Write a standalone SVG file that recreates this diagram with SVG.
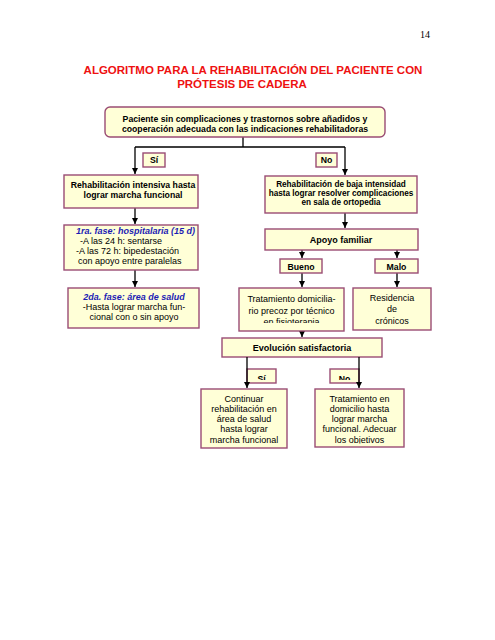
<svg xmlns="http://www.w3.org/2000/svg" width="495" height="640" viewBox="0 0 495 640">
<defs>
<style>
.box{fill:#FFFFD7;stroke:#9A4C74;stroke-width:1.4}
.c{stroke:#000;stroke-width:1.3;fill:none}
.a{marker-end:url(#ah)}
text{font-family:"Liberation Sans",Arial,Helvetica,sans-serif;fill:#000}
.t{font-size:11.5px;font-weight:bold;fill:#EE1111;text-anchor:middle}
.b{font-size:8.7px;font-weight:bold;text-anchor:middle}
.r{font-size:9px;text-anchor:middle}
.rl{font-size:9px}
.bi{font-size:9px;font-weight:bold;font-style:italic;fill:#1C1CB4}
.pg{font-family:"Liberation Serif","Times New Roman",serif;font-size:10px}
</style>
<marker id="ah" markerWidth="6" markerHeight="6" refX="6" refY="3" orient="auto" markerUnits="userSpaceOnUse"><path d="M0,0 L6,3 L0,6 z" fill="#000"/></marker>
<clipPath id="clipF"><rect x="239" y="288" width="105" height="35"/></clipPath>
<clipPath id="clipSi"><rect x="247" y="369" width="29" height="11"/></clipPath>
<clipPath id="clipNo"><rect x="330" y="369" width="29" height="11"/></clipPath>
<clipPath id="clipJ"><rect x="315" y="389" width="89" height="54.5"/></clipPath>
</defs>
<rect width="495" height="640" fill="#fff"/>
<text class="pg" x="420" y="38">14</text>
<text class="t" x="253" y="74">ALGORITMO PARA LA REHABILITACIÓN DEL PACIENTE CON</text>
<text class="t" x="242" y="88">PRÓTESIS DE CADERA</text>

<g id="connectors">
<path class="c" d="M243,137 V147 M135,147 H345"/>
<path class="c a" d="M135,147 V174"/>
<path class="c a" d="M345,147 V175"/>
<path class="c a" d="M135,208 V224"/>
<path class="c a" d="M135,270 V287"/>
<path class="c a" d="M345,213 V228"/>
<path class="c a" d="M302,250 V258"/>
<path class="c a" d="M397,250 V258"/>
<path class="c a" d="M302,273 V287"/>
<path class="c a" d="M397,273 V287"/>
<path class="c a" d="M302,331 V337"/>
</g>

<g id="n_top"><rect class="box" x="105" y="107" width="280" height="30" rx="5"/>
<text class="b" x="245" y="122">Paciente sin complicaciones y trastornos sobre añadidos y</text>
<text class="b" x="245" y="132">cooperación adecuada con las indicaciones rehabilitadoras</text></g>

<g id="l_si"><rect class="box" x="143" y="153" width="22" height="14"/><text class="b" x="154" y="163">Sí</text></g>
<g id="l_no"><rect class="box" x="316" y="153" width="21" height="14"/><text class="b" x="326.5" y="163">No</text></g>

<g id="n_intensiva"><rect class="box" x="64" y="175" width="134" height="33"/>
<text class="b" x="133" y="188">Rehabilitación intensiva hasta</text>
<text class="b" x="133" y="198">lograr marcha funcional</text></g>

<g id="n_fase1"><rect class="box" x="64" y="225" width="134" height="45"/>
<text class="bi" x="76" y="234">1ra. fase: hospitalaria (15 d)</text>
<text class="rl" x="80" y="244">-A las 24 h: sentarse</text>
<text class="rl" x="76" y="254">-A las 72 h: bipedestación</text>
<text class="rl" x="78" y="264">con apoyo entre paralelas</text></g>

<g id="n_fase2"><rect class="box" x="68" y="288" width="131" height="40"/>
<text class="bi" x="134" y="299.5" text-anchor="middle">2da. fase: área de salud</text>
<text class="r" x="134" y="309.5">-Hasta lograr marcha fun-</text>
<text class="r" x="134" y="319.5">cional con o sin apoyo</text></g>

<g id="n_baja"><rect class="box" x="265" y="176" width="152" height="37"/>
<text class="b" x="341" y="187" style="font-size:8.2px">Rehabilitación de baja intensidad</text>
<text class="b" x="341" y="196" style="font-size:8.2px">hasta lograr resolver complicaciones</text>
<text class="b" x="341" y="205" style="font-size:8.2px">en sala de ortopedia</text></g>

<g id="n_apoyo"><rect class="box" x="265" y="229" width="153" height="21"/>
<text class="b" x="341" y="242.5" style="font-size:9px">Apoyo familiar</text></g>

<g id="l_bueno"><rect class="box" x="280" y="259" width="42" height="14"/><text class="b" x="301" y="269.5">Bueno</text></g>
<g id="l_malo"><rect class="box" x="375" y="259" width="43" height="14"/><text class="b" x="396.5" y="269.5">Malo</text></g>

<g id="n_domic"><rect class="box" x="239" y="288" width="105" height="43"/>
<g clip-path="url(#clipF)">
<text class="r" x="291.5" y="302">Tratamiento domicilia-</text>
<text class="r" x="291.5" y="313.5">rio precoz por técnico</text>
<text class="r" x="291.5" y="325">en fisioterapia</text></g></g>

<g id="n_resid"><rect class="box" x="353" y="288" width="78" height="42"/>
<text class="r" x="392" y="300.5">Residencia</text>
<text class="r" x="392" y="312">de</text>
<text class="r" x="392" y="323.5">crónicos</text></g>

<g id="n_evol"><rect class="box" x="222" y="338" width="160" height="19"/>
<text class="b" x="302" y="351" style="font-size:9px">Evolución satisfactoria</text></g>

<g id="l_si2"><rect class="box" x="247" y="369" width="29" height="14"/><text class="b" x="261.5" y="382" clip-path="url(#clipSi)">Sí</text></g>
<g id="l_no2"><rect class="box" x="330" y="369" width="29" height="14"/><text class="b" x="344.5" y="382" clip-path="url(#clipNo)">No</text></g>

<g id="connectors2">
<path class="c a" d="M247,357 V388"/>
<path class="c a" d="M359,357 V388"/>
</g>

<g id="n_continuar"><rect class="box" x="201" y="389" width="86" height="59"/>
<text class="r" x="244" y="401.5">Continuar</text>
<text class="r" x="244" y="411.8">rehabilitación en</text>
<text class="r" x="244" y="422">área de salud</text>
<text class="r" x="244" y="432.3">hasta lograr</text>
<text class="r" x="244" y="442.5">marcha funcional</text></g>

<g id="n_tratdom"><rect class="box" x="315" y="389" width="89" height="58"/>
<g clip-path="url(#clipJ)">
<text class="r" x="359.5" y="401.5">Tratamiento en</text>
<text class="r" x="359.5" y="411.8">domicilio hasta</text>
<text class="r" x="359.5" y="422">lograr marcha</text>
<text class="r" x="359.5" y="432.3">funcional. Adecuar</text>
<text class="r" x="359.5" y="442.5">los objetivos</text></g></g>
</svg>
